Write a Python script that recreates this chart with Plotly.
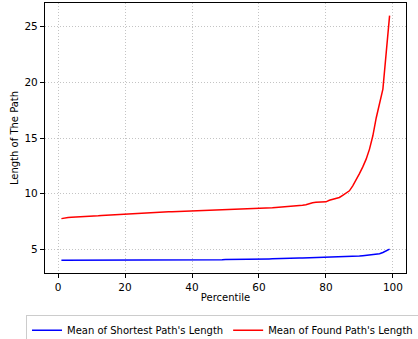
import plotly.graph_objects as go

percentile = list(range(1, 100))

shortest_len = [
    4.00, 4.00, 4.00, 4.00, 4.00, 4.00, 4.01, 4.01, 4.01, 4.01,
    4.01, 4.01, 4.01, 4.01, 4.01, 4.02, 4.02, 4.02, 4.02, 4.02,
    4.02, 4.02, 4.02, 4.02, 4.02, 4.02, 4.03, 4.03, 4.03, 4.03,
    4.03, 4.03, 4.03, 4.03, 4.03, 4.03, 4.03, 4.04, 4.04, 4.04,
    4.04, 4.04, 4.04, 4.05, 4.05, 4.05, 4.05, 4.06, 4.06, 4.07,
    4.07, 4.08, 4.08, 4.09, 4.09, 4.10, 4.10, 4.11, 4.11, 4.12,
    4.12, 4.13, 4.13, 4.14, 4.14, 4.15, 4.16, 4.16, 4.17, 4.18,
    4.19, 4.20, 4.21, 4.22, 4.22, 4.23, 4.23, 4.24, 4.24, 4.25,
    4.25, 4.26, 4.27, 4.28, 4.29, 4.30, 4.32, 4.34, 4.36, 4.39,
    4.42, 4.45, 4.48, 4.52, 4.55, 4.60, 4.70, 4.85, 5.00,
]

found_len = [
    7.75, 7.82, 7.85, 7.87, 7.88, 7.89, 7.90, 7.92, 7.94, 7.96,
    7.98, 8.00, 8.03, 8.05, 8.06, 8.08, 8.10, 8.12, 8.15, 8.17,
    8.18, 8.20, 8.21, 8.22, 8.24, 8.25, 8.27, 8.29, 8.31, 8.33,
    8.34, 8.35, 8.36, 8.37, 8.38, 8.39, 8.40, 8.41, 8.42, 8.43,
    8.45, 8.47, 8.49, 8.50, 8.51, 8.52, 8.53, 8.55, 8.57, 8.58,
    8.59, 8.60, 8.61, 8.62, 8.62, 8.63, 8.63, 8.64, 8.64, 8.65,
    8.67, 8.69, 8.71, 8.73, 8.75, 8.77, 8.79, 8.81, 8.83, 8.85,
    8.88, 8.91, 8.95, 9.00, 9.10, 9.18, 9.22, 9.23, 9.24, 9.26,
    9.40, 9.48, 9.55, 9.65, 9.85, 10.05, 10.25, 10.70, 11.20, 11.80,
    12.40, 13.10, 14.00, 15.20, 16.80, 18.00, 19.40, 22.70, 26.00,
]

x_ticks = [0, 20, 40, 60, 80, 100]
y_ticks = [5, 10, 15, 20, 25]

fig = go.Figure()
fig.add_trace(go.Scatter(x=percentile, y=shortest_len, mode="lines",
                         line=dict(color="blue", width=1.5),
                         name="Mean of Shortest Path's Length"))
fig.add_trace(go.Scatter(x=percentile, y=found_len, mode="lines",
                         line=dict(color="red", width=1.5),
                         name="Mean of Found Path's Length"))

axis_common = dict(
    showline=True, linecolor="black", linewidth=1.2, mirror=True,
    ticks="outside", ticklen=4, tickcolor="black", tickwidth=1,
    showgrid=True, gridcolor="#c4c4c4", griddash="1px,2px", gridwidth=1,
    zeroline=False, tickfont=dict(size=10.5, color="black"),
    automargin=False,
)

fig.update_xaxes(range=[-3.9, 103.9], tickvals=x_ticks,
                 title=dict(text="Percentile", font=dict(size=10, color="black"), standoff=2),
                 **axis_common)
fig.update_yaxes(range=[2.86, 27.14], tickvals=y_ticks,
                 title=dict(text="Length of The Path", font=dict(size=10, color="black"), standoff=3),
                 **axis_common)

# legend drop shadow
fig.add_shape(type="rect", xref="paper", yref="paper",
              x0=-0.036, x1=1.06, y0=-0.2407, y1=-0.174,
              fillcolor="rgba(128,128,128,0.5)", line=dict(width=0), layer="below")

fig.update_layout(
    width=418, height=339,
    margin=dict(l=45, r=12, t=3, b=66, autoexpand=False),
    plot_bgcolor="white", paper_bgcolor="white",
    font=dict(family="DejaVu Sans", size=10, color="black"),
    showlegend=True,
    legend=dict(orientation="h", x=-0.0526, xanchor="left", y=-0.155, yanchor="top",
                bordercolor="#cccccc", borderwidth=1, bgcolor="white",
                font=dict(size=10), itemwidth=30),
)

fig.write_html("out.html", config={"displayModeBar": False},
               post_script="document.body.style.margin='0';")
